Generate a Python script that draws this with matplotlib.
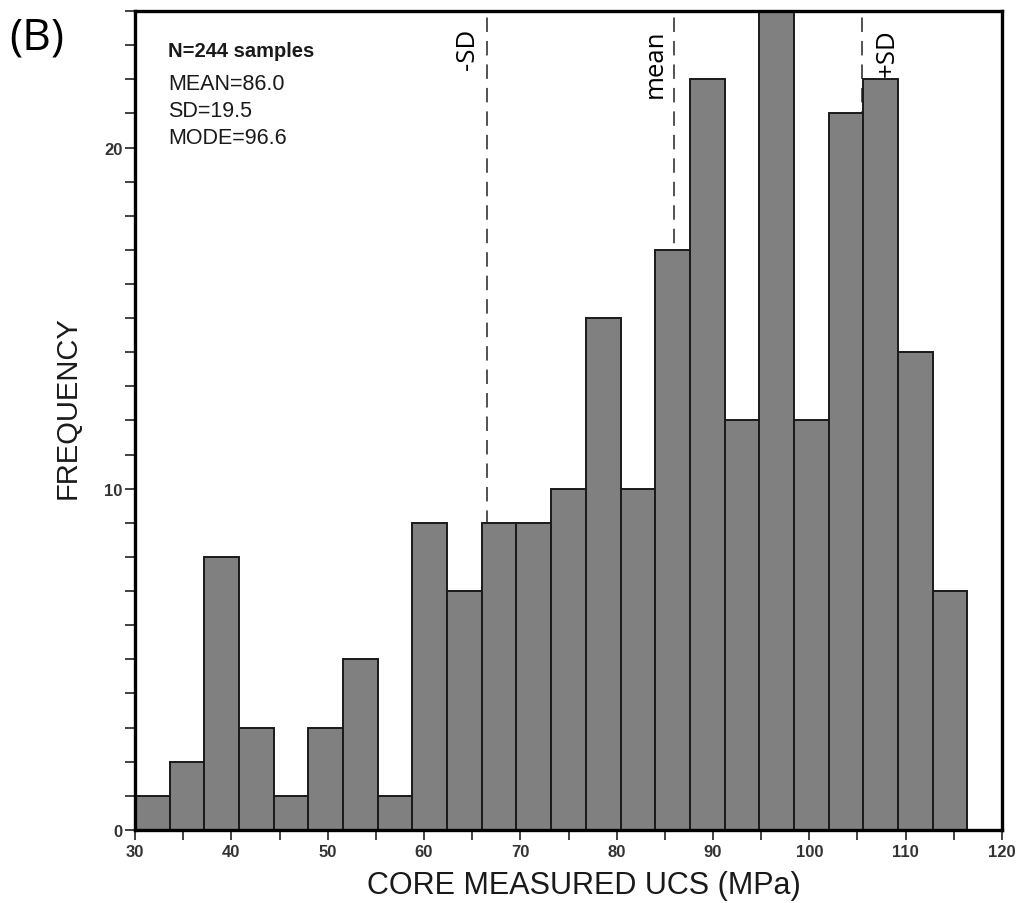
import numpy as np
import matplotlib
matplotlib.use("Agg")
import matplotlib.pyplot as plt
from matplotlib.ticker import MultipleLocator

# ---- data ----
bin_start = 30.0
bin_width = 3.6
counts = [1, 2, 8, 3, 1, 3, 5, 1, 9, 7, 9, 9, 10, 15, 10, 17, 22, 12, 24, 12, 21, 22, 14, 7]
mean_val = 86.0
sd_val = 19.5
mode_val = 96.6
n_samples = 244
ref_lines = [("-SD", mean_val - sd_val), ("mean", mean_val), ("+SD", mean_val + sd_val)]
stats_lines = ["MEAN=86.0", "SD=19.5", "MODE=96.6"]
x_label = "CORE MEASURED UCS (MPa)"
y_label = "FREQUENCY"
panel_label = "(B)"

edges = bin_start + bin_width * np.arange(len(counts) + 1)

fig = plt.figure(figsize=(10.19, 9.04), dpi=100)
ax = fig.add_axes([0.1325, 0.0808, 0.8508, 0.9059])

ax.bar(edges[:-1], counts, width=bin_width, align="edge",
       color="#808080", edgecolor="#1a1a1a", linewidth=1.4, zorder=2)

for lab, xv in ref_lines:
    ax.axvline(xv, color="#444444", linestyle=(0, (8, 5)), linewidth=1.3, zorder=1)

ax.set_xlim(30, 120)
ax.set_ylim(0, 24)

ax.xaxis.set_major_locator(MultipleLocator(10))
ax.xaxis.set_minor_locator(MultipleLocator(5))
ax.yaxis.set_major_locator(MultipleLocator(10))
ax.yaxis.set_minor_locator(MultipleLocator(1))
ax.tick_params(which="both", direction="out", length=7, width=1.3, color="#333333")
ax.tick_params(axis="x", which="major", pad=3)
ax.tick_params(axis="y", which="major", pad=2)
for lbl in ax.get_xticklabels() + ax.get_yticklabels():
    lbl.set_fontfamily("Liberation Sans")
    lbl.set_fontweight("bold")
    lbl.set_fontsize(12)
    lbl.set_color("#333333")

for sp in ax.spines.values():
    sp.set_linewidth(2.4)
    sp.set_color("black")

ax.set_xlabel(x_label, fontfamily="Liberation Sans", fontsize=22, color="#1a1a1a", va="center")
ax.xaxis.set_label_coords(0.518, -0.067)
ax.set_ylabel(y_label, fontfamily="Liberation Sans", fontsize=21, color="#1a1a1a", va="center")
ax.yaxis.set_label_coords(-0.078, 0.517)

# stats block
ax.text(0.038, 0.952, f"N={n_samples} samples", transform=ax.transAxes,
        fontfamily="Liberation Sans", fontsize=14.5, fontweight="bold", va="center", ha="left",
        color="#1a1a1a")
for i, s in enumerate(stats_lines):
    ax.text(0.038, 0.9115 - i * 0.033, s, transform=ax.transAxes,
            fontfamily="Liberation Sans", fontsize=15.5, va="center", ha="left", color="#1a1a1a")

# reference line labels
label_offsets = {"-SD": -1.35, "mean": -1.3, "+SD": 3.3}
for lab, xv in ref_lines:
    ax.text(xv + label_offsets[lab], 23.5, lab, rotation=90, rotation_mode="anchor",
            ha="right", va="baseline", fontfamily="Open Sans", fontsize=18.5, color="black")

fig.text(0.009, 0.958, panel_label, fontfamily="Open Sans", fontsize=32, ha="left", va="center")

fig.savefig("out.png", dpi=100)
